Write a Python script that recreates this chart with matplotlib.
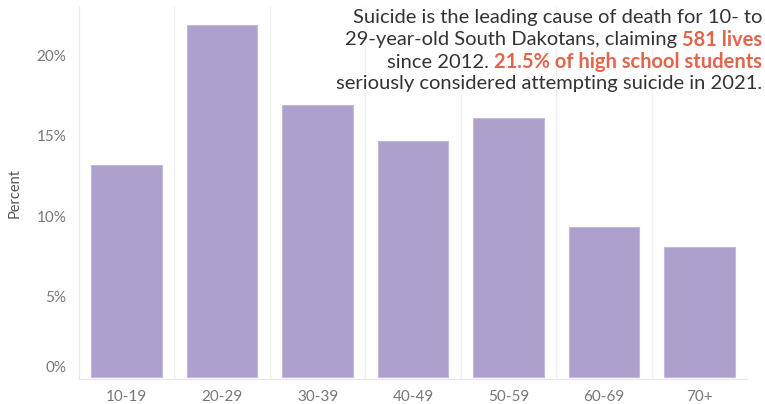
import matplotlib.pyplot as plt
from matplotlib.ticker import FuncFormatter
from matplotlib.transforms import ScaledTranslation

age_groups = ['10-19', '20-29', '30-39', '40-49', '50-59', '60-69', '70+']
percent = [13.2, 21.9, 16.9, 14.7, 16.1, 9.3, 8.1]
y_ticks = [0, 5, 10, 15, 20]

# lines of the note, each as (text, highlighted) pieces
note_lines = [
    [('Suicide is the leading cause of death for 10- to', False)],
    [('29-year-old South Dakotans, claiming ', False), ('581 lives', True)],
    [('since 2012. ', False), ('21.5% of high school students', True)],
    [('seriously considered attempting suicide in 2021.', False)],
]

plt.rcParams['font.family'] = ['Lato', 'DejaVu Sans']

fig = plt.figure(figsize=(7.65, 4.04), dpi=100)
ax = fig.add_axes([79 / 765, 25 / 404, 668 / 765, 372 / 404])

ax.bar(range(len(age_groups)), percent, width=0.74, color='#aea0cc',
       edgecolor='#c4b9dc', linewidth=0.8, zorder=2)

ax.set_xlim(-0.5, len(age_groups) - 0.5)
ax.set_ylim(-0.12, 23)
ax.set_xticks(range(len(age_groups)))
ax.set_xticklabels(age_groups)
ax.set_xticks([i + 0.5 for i in range(len(age_groups) - 1)], minor=True)
ax.grid(True, which='minor', axis='x', color='#f2f2f2', linewidth=1, zorder=0)
ax.set_yticks(y_ticks)
ax.yaxis.set_major_formatter(FuncFormatter(lambda v, p: f'{v:.0f}%'))
ax.tick_params(axis='both', which='both', length=0, labelsize=11, colors='#777777')
ax.tick_params(axis='y', pad=9)
ax.tick_params(axis='x', pad=8)
ax.set_ylabel('Percent', fontsize=10.5, color='#555555', labelpad=11)

for s in ['top', 'right']:
    ax.spines[s].set_visible(False)
ax.spines['left'].set_color('#e8e8e8')
ax.spines['bottom'].set_color('#e8e8e8')

fig.canvas.draw()
# lift the 0% label off the baseline
lbl0 = ax.yaxis.get_major_ticks()[0].label1
lbl0.set_transform(lbl0.get_transform() + ScaledTranslation(0, 0.11, fig.dpi_scale_trans))

# note in the top right corner, right aligned
renderer = fig.canvas.get_renderer()
right_x = 762
top_y = 404 - 18
for i, line in enumerate(note_lines):
    x = right_x
    y = top_y - i * 22
    for txt, hi in reversed(line):
        t = fig.text(x / 765, y / 404, txt, ha='right', va='center',
                     fontsize=14.5, color='#e0654c' if hi else '#333333',
                     fontweight='bold' if hi else 'normal')
        x -= t.get_window_extent(renderer).width

fig.savefig('out.png', dpi=100)
